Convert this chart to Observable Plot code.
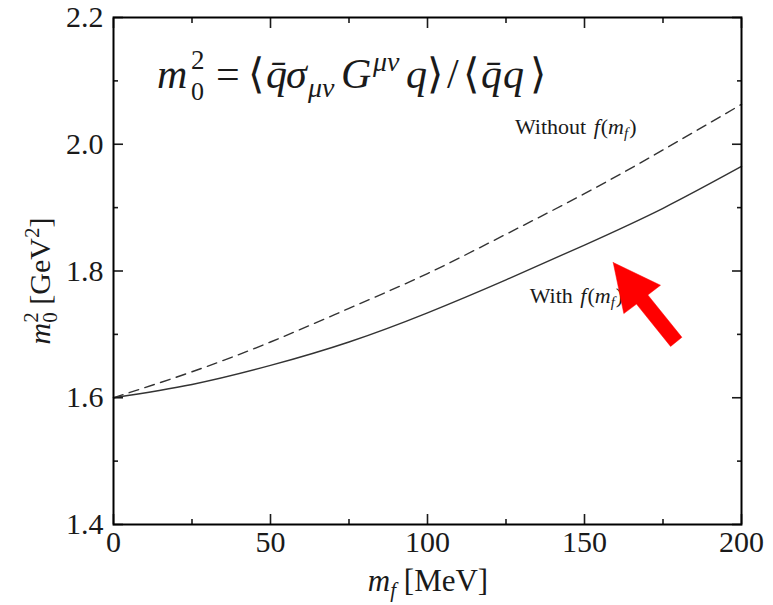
<!DOCTYPE html>
<html><head><meta charset="utf-8">
<script src="https://cdn.jsdelivr.net/npm/d3@7"></script>
<script src="https://cdn.jsdelivr.net/npm/@observablehq/plot@0.6"></script>
<style>body{margin:0;background:#fff}</style>
</head><body><div id="chart"></div>
<script>
// data
const mf       = [0, 25, 50, 75, 100, 125, 150, 175, 200];
const withF    = [1.600, 1.621, 1.651, 1.688, 1.734, 1.786, 1.841, 1.899, 1.965];
const withoutF = [1.600, 1.641, 1.688, 1.741, 1.796, 1.858, 1.922, 1.991, 2.063];
const xMajor = [0, 50, 100, 150, 200];
const xMinor = [25, 75, 125, 175];
const yMajor = [1.4, 1.6, 1.8, 2.0, 2.2];
const yMinor = [1.5, 1.7, 1.9, 2.1];
// red arrow outline in data coordinates
const arrowMf = [159.14, 174.20, 170.16, 181.02, 177.42, 166.56, 162.52, 159.14];
const arrowM0 = [1.8134, 1.7775, 1.7622, 1.6954, 1.6810, 1.7478, 1.7328, 1.8134];
// annotation anchors (data coordinates)
const labelWithout = {mf: 128, m0: 2.016};
const labelWith = {mf: 132.7, m0: 1.749};

const rowsWith = mf.map((x, i) => ({x, y: withF[i]}));
const rowsWithout = mf.map((x, i) => ({x, y: withoutF[i]}));
const arrowPts = arrowMf.map((x, i) => ({x, y: arrowM0[i]}));

const ink = "#1a1a1a";
const font = "'Liberation Serif', 'Times New Roman', serif";

const chart = Plot.plot({
  width: 773, height: 605,
  marginLeft: 113, marginRight: 32, marginTop: 17, marginBottom: 81,
  style: {fontFamily: font, color: ink, background: "#fff"},
  x: {domain: [0, 200]},
  y: {domain: [1.4, 2.2]},
  marks: [
    Plot.line(rowsWithout, {x: "x", y: "y", curve: "natural", stroke: "#333", strokeWidth: 1.4, strokeDasharray: "10,6.5"}),
    Plot.line(rowsWith, {x: "x", y: "y", curve: "natural", stroke: "#333", strokeWidth: 1.4}),
    // tick labels
    Plot.axisX({anchor: "bottom", ticks: xMajor, tickSize: 0, tickPadding: 6, fontSize: 30, fontFamily: font, label: null, tickFormat: d => String(d)}),
    Plot.axisY({anchor: "left", ticks: yMajor, tickSize: 0, tickPadding: 10, fontSize: 30, fontFamily: font, label: null, tickFormat: d => d.toFixed(1)}),
    // inward ticks on all four sides
    Plot.axisX({anchor: "bottom", ticks: xMajor, tickSize: -10, strokeWidth: 1.6, fill: "none", label: null}),
    Plot.axisX({anchor: "bottom", ticks: xMinor, tickSize: -5, strokeWidth: 1.6, fill: "none", label: null}),
    Plot.axisX({anchor: "top", ticks: xMajor, tickSize: -10, strokeWidth: 1.6, fill: "none", label: null}),
    Plot.axisX({anchor: "top", ticks: xMinor, tickSize: -5, strokeWidth: 1.6, fill: "none", label: null}),
    Plot.axisY({anchor: "left", ticks: yMajor, tickSize: -10, strokeWidth: 1.6, fill: "none", label: null}),
    Plot.axisY({anchor: "left", ticks: yMinor, tickSize: -5, strokeWidth: 1.6, fill: "none", label: null}),
    Plot.axisY({anchor: "right", ticks: yMajor, tickSize: -10, strokeWidth: 1.6, fill: "none", label: null}),
    Plot.axisY({anchor: "right", ticks: yMinor, tickSize: -5, strokeWidth: 1.6, fill: "none", label: null}),
    Plot.frame({stroke: "#000", strokeWidth: 2}),
    Plot.line(arrowPts, {x: "x", y: "y", fill: "#ff0000", stroke: "#ff0000", strokeWidth: 0.5, className: "red-arrow"})
  ]
});

document.getElementById("chart").appendChild(chart);

const svg = d3.select(chart);
const sx = chart.scale("x"), sy = chart.scale("y");

// rich text helper: pieces {t, it, size, dx, dy, x (offset from start)}
function rich(parent, x, y, baseSize, pieces, opts = {}) {
  const t = parent.append("text")
    .attr("x", x).attr("y", y)
    .attr("font-family", font)
    .attr("font-size", baseSize)
    .attr("fill", ink)
    .attr("text-anchor", opts.anchor || "start");
  if (opts.rotate) t.attr("transform", `rotate(${opts.rotate},${x},${y})`);
  for (const p of pieces) {
    const s = t.append("tspan").text(p.t);
    if (p.it) s.attr("font-style", "italic");
    if (p.size) s.attr("font-size", p.size);
    if (p.x != null) s.attr("x", x + p.x);
    if (p.dx) s.attr("dx", p.dx);
    if (p.dy) s.attr("dy", p.dy);
  }
  return t;
}

// formula at top
rich(svg, 157, 88, 42, [
  {t: "m", it: true, x: 0},
  {t: "2", size: 27, x: 34, dy: -19},
  {t: "0", size: 26, x: 34, dy: 31},
  {t: "=", x: 59, dy: -12},
  {t: "⟨", x: 91},
  {t: "q̄", it: true, x: 109},
  {t: "σ", it: true, x: 129},
  {t: "μν", it: true, size: 28, x: 151, dy: 9},
  {t: "G", it: true, x: 184, dy: -9},
  {t: "μν", it: true, size: 28, x: 216, dy: -17},
  {t: "q", it: true, x: 249, dy: 17},
  {t: "⟩", x: 270},
  {t: "/", x: 290},
  {t: "⟨", x: 306},
  {t: "q̄", it: true, x: 324},
  {t: "q", it: true, x: 346},
  {t: "⟩", x: 373}
]);

// x-axis title
rich(svg, 428, 591, 31, [
  {t: "m", it: true},
  {t: "f", it: true, size: 21, dy: 6},
  {t: " [MeV]", dy: -6}
], {anchor: "middle"});

// y-axis title
rich(svg, 50, 281, 30, [
  {t: "m", it: true},
  {t: "2", size: 21, dy: -12},
  {t: "0", size: 21, dx: -10.5, dy: 19},
  {t: " [GeV", dy: -7},
  {t: "2", size: 21, dy: -11},
  {t: "]", dy: 11}
], {anchor: "middle", rotate: -90});

// curve annotations
const annot = [
  {t: "f", it: true, dx: 2},
  {t: "(", dx: 1},
  {t: "m", it: true},
  {t: "f", it: true, size: 15, dy: 4},
  {t: ")", dx: 1, dy: -4}
];
rich(svg, sx.apply(labelWithout.mf), sy.apply(labelWithout.m0), 22, [{t: "Without "}, ...annot]);
rich(svg, sx.apply(labelWith.mf), sy.apply(labelWith.m0), 22, [{t: "With "}, ...annot]);

// keep the red arrow on top of the annotation text
const arrowNode = chart.querySelector(".red-arrow");
if (arrowNode) chart.appendChild(arrowNode);
</script>
</body></html>
